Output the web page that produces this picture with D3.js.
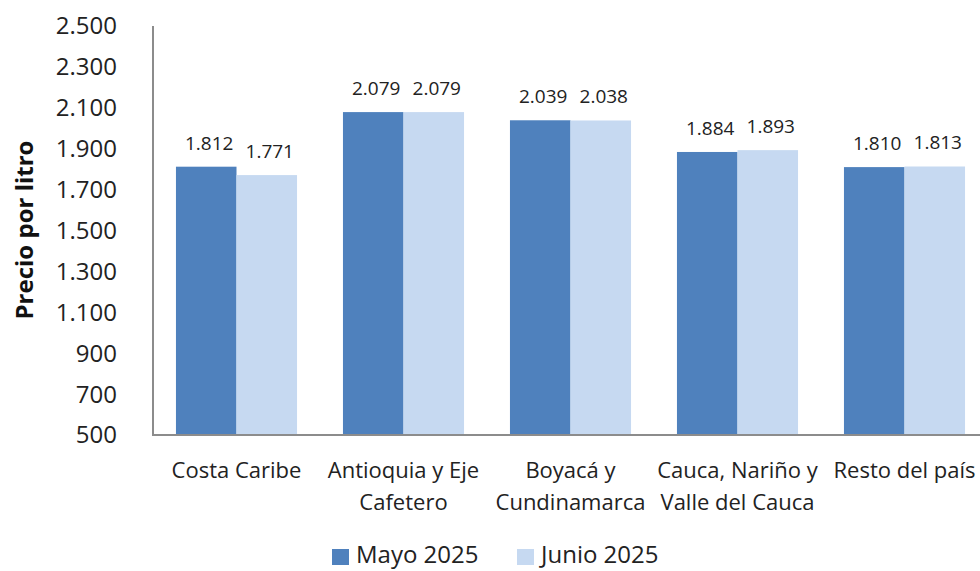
<!DOCTYPE html>
<html>
<head>
<meta charset="utf-8">
<script src="https://cdn.jsdelivr.net/npm/d3@7"></script>
<style>
  body { margin: 0; background: #fff; }
  svg { display: block; font-family: "Open Sans", "Noto Sans", sans-serif; }
</style>
</head>
<body>
<svg width="980" height="571"></svg>
<script>
// data
const regiones = [
    ["Costa Caribe"],
    ["Antioquia y Eje", "Cafetero"],
    ["Boyacá y", "Cundinamarca"],
    ["Cauca, Nariño y", "Valle del Cauca"],
    ["Resto del país"]
];
const series = ["Mayo 2025", "Junio 2025"];
const mayo = [1812, 2079, 2039, 1884, 1810];
const junio = [1771, 2079, 2038, 1893, 1813];
const yTicks = [500, 700, 900, 1100, 1300, 1500, 1700, 1900, 2100, 2300, 2500];
const colores = ["#4F81BD", "#C6D9F1"];

const svg = d3.select("svg");
const fmt = d3.formatLocale({ decimal: ",", thousands: ".", grouping: [3], currency: ["$", ""] }).format(",d");

const x0 = d3.scaleBand()
    .domain(d3.range(regiones.length))
    .range([153, 988])
    .paddingInner(0.275)
    .paddingOuter(0.1375);
const x1 = d3.scaleBand()
    .domain(series)
    .range([0, x0.bandwidth()]);
const y = d3.scaleLinear().domain([500, 2500]).range([435, 26]);

// y tick labels
svg.append("g").selectAll("text")
    .data(yTicks)
    .enter().append("text")
    .attr("x", 117)
    .attr("y", d => y(d))
    .attr("dy", "0.35em")
    .attr("text-anchor", "end")
    .attr("font-size", 24)
    .attr("fill", "#222")
    .text(d => fmt(d));

// axis title
svg.append("text")
    .attr("transform", "translate(33,230) rotate(-90)")
    .attr("text-anchor", "middle")
    .attr("font-size", 24)
    .attr("font-weight", "bold")
    .attr("fill", "#111")
    .text("Precio por litro");

// bars
const valores = [mayo, junio];
const grupos = svg.append("g").selectAll("g")
    .data(regiones.map((r, i) => i))
    .enter().append("g")
    .attr("transform", i => `translate(${x0(i)},0)`);

grupos.selectAll("rect")
    .data(i => series.map((s, k) => ({ s, k, v: valores[k][i] })))
    .enter().append("rect")
    .attr("x", d => x1(d.s))
    .attr("y", d => y(d.v))
    .attr("width", x1.bandwidth())
    .attr("height", d => y(500) - y(d.v))
    .attr("fill", d => colores[d.k]);

grupos.selectAll("text")
    .data(i => series.map((s, k) => ({ s, k, v: valores[k][i] })))
    .enter().append("text")
    .attr("x", d => x1(d.s) + x1.bandwidth() / 2 + 3)
    .attr("y", d => y(d.v) - 17)
    .attr("text-anchor", "middle")
    .attr("font-size", 19)
    .attr("fill", "#222")
    .text(d => fmt(d.v));

// axes lines
svg.append("path")
    .attr("d", `M153,${y(2500)}V${y(500)}H988`)
    .attr("fill", "none")
    .attr("stroke", "#8c8c8c")
    .attr("stroke-width", 2);

// category labels
const cat = svg.append("g").selectAll("text")
    .data(regiones)
    .enter().append("text")
    .attr("x", (d, i) => x0(i) + x0.bandwidth() / 2)
    .attr("y", 478)
    .attr("text-anchor", "middle")
    .attr("font-size", 22)
    .attr("fill", "#222");
cat.selectAll("tspan")
    .data(d => d)
    .enter().append("tspan")
    .attr("x", function () { return this.parentNode.getAttribute("x"); })
    .attr("dy", (d, j) => j ? 32 : 0)
    .text(d => d);

// legend
const legX = [332, 517];
const leg = svg.append("g").selectAll("g")
    .data(series)
    .enter().append("g")
    .attr("transform", (d, i) => `translate(${legX[i]},549)`);
leg.append("rect")
    .attr("width", 17)
    .attr("height", 16)
    .attr("fill", (d, i) => colores[i]);
leg.append("text")
    .attr("x", 24)
    .attr("y", 6)
    .attr("dy", "0.35em")
    .attr("font-size", 24)
    .attr("fill", "#222")
    .text(d => d);
</script>
</body>
</html>
